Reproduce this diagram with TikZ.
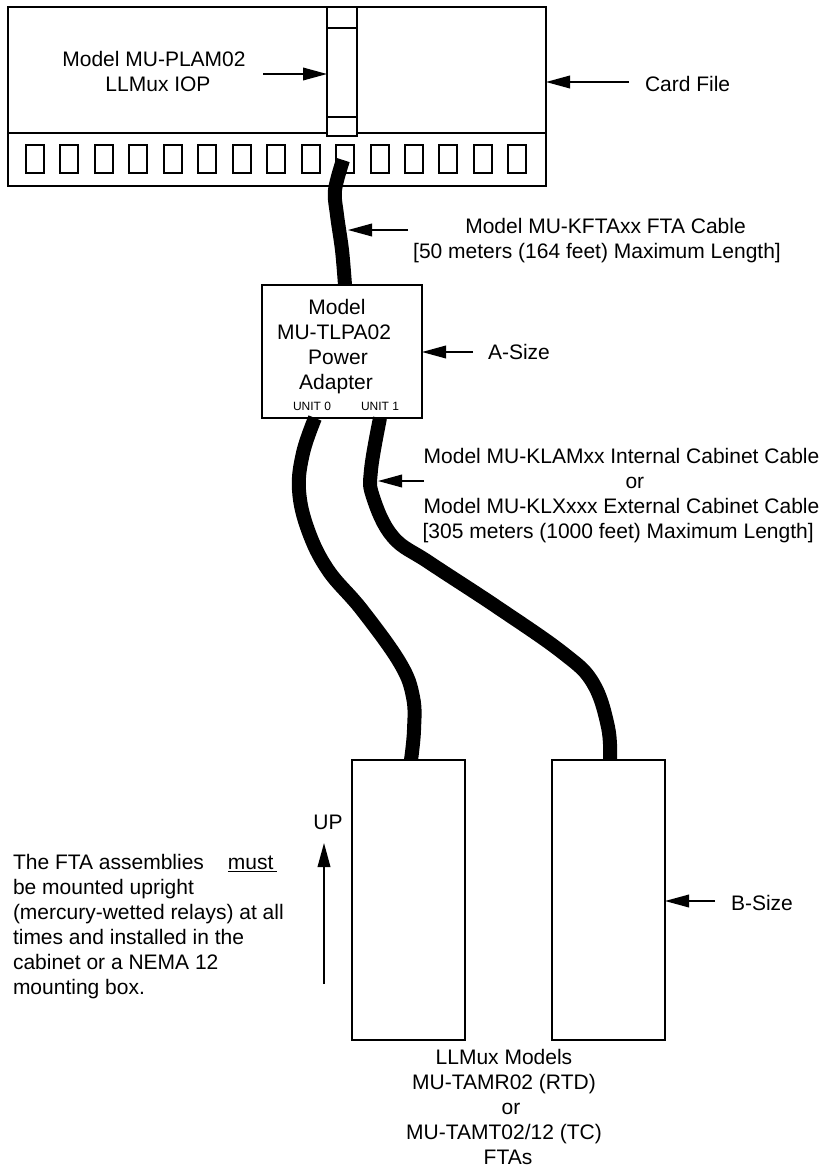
\documentclass[tikz,border=0pt]{standalone}
\usepackage{fontspec}
\setmainfont{Liberation Sans}
\usetikzlibrary{arrows.meta}
\def\px{0.75pt}
\tikzset{
  every node/.style={inner sep=0pt,outer sep=0pt},
  ln/.style={line width=1.5pt,draw=black},
  box/.style={ln,fill=white,rectangle,anchor=north west},
  lbl/.style={font=\fontsize{15.75pt}{18.75pt}\selectfont,align=center,anchor=base},
  lblleft/.style={lbl,align=left,anchor=base west},
  small/.style={font=\fontsize{9pt}{11pt}\selectfont,anchor=base},
  callout/.style={line width=1.1pt,-{Triangle[length=18pt,width=9.5pt]}},
  cable/.style={line width=10.5pt,line join=round,line cap=butt}
}
\begin{document}
\begin{tikzpicture}[x=0.75pt,y=-0.75pt]
\useasboundingbox (0,0) rectangle (822,1168);
% card file
\node[box,minimum width=538*\px,minimum height=179*\px] (card) at (8,7) {};
\draw[ln] (card.west|-0,133) -- (card.east|-0,133);
\foreach \i in {0,...,14} {
  \node[box,minimum width=18*\px,minimum height=28*\px] (slot\i) at ({26+\i*34.45},145) {};
}
\node[box,minimum width=30*\px,minimum height=129*\px] (iop) at (327,7) {};
\draw[ln] (iop.west|-0,28) -- (iop.east|-0,28);
\draw[ln] (iop.west|-0,117) -- (iop.east|-0,117);
% other boxes
\node[box,minimum width=160*\px,minimum height=133*\px] (adapter) at (262,285) {};
\node[box,minimum width=113*\px,minimum height=280*\px] (ftaA) at (352,760) {};
\node[box,minimum width=113*\px,minimum height=280*\px] (ftaB) at (552,760) {};
% cables
\coordinate (c0) at (343,160);
\coordinate (c1) at (adapter.north-|345,0);
\draw[cable] plot[smooth,tension=0.55] coordinates {(c0) (335,190) (337,215) (342,250) (c1)};
\coordinate (u0) at (315,418);
\coordinate (u0e) at (411,760);
\draw[cable] plot[smooth,tension=0.65] coordinates {(u0) (303,453) (299,490) (308,530) (328,570) (362,610) (400,663) (413,697) (414,730) (u0e)};
\coordinate (u1) at (380,418);
\coordinate (u1e) at (610,760);
\draw[cable] plot[smooth,tension=0.65] coordinates {(u1) (371,470) (373,497) (393,537) (430,563) (497,607) (563,653) (593,683) (608,727) (u1e)};
% labels
\node[lbl] (tIop) at (154,91) {Model MU-PLAM02\\\hspace*{6pt}LLMux IOP};
\node[lblleft] (tCard) at (645,91) {Card File};
\node[lbl] (tKfta) at (597,258) {\hspace*{12.75pt}Model MU-KFTAxx FTA Cable\\{}[50 meters (164 feet) Maximum Length]};
\node[lbl] (tAdapter) at (334,389) {\hspace*{4.5pt}Model\\MU-TLPA02\\\hspace*{6pt}Power\\\hspace*{3pt}Adapter};
\node[small] (tU0) at (312,410) {UNIT 0};
\node[small] (tU1) at (380,410) {UNIT 1};
\node[lblleft] (tA) at (488,359) {A-Size};
\node[lbl] (tKlam) at (621.5,538) {Model MU-KLAMxx Internal Cabinet Cable\\\hspace*{20pt}or\\Model MU-KLXxxx External Cabinet Cable\\{}[305 meters (1000 feet) Maximum Length]\hspace*{5pt}};
\node[lblleft] (tB) at (731,910) {B-Size};
\node[lbl] (tUp) at (328,829) {UP};
\node[lblleft] (tNote) at (13,994) {The FTA assemblies\hspace{18pt}\underline{must\,}\\be mounted upright\\(mercury-wetted relays) at all\\times and installed in the\\cabinet or a NEMA 12\\mounting box.};
\node[lbl] (tFta) at (504,1164) {LLMux Models\\MU-TAMR02 (RTD)\\\hspace*{10.5pt}or\\MU-TAMT02/12 (TC)\\\hspace*{6pt}FTAs};
% callouts
\coordinate (a1) at (263,74);
\draw[callout] (a1) -- (iop.west|-a1);
\coordinate (a2) at (629,82);
\draw[callout] (a2) -- (card.east|-a2);
\coordinate (a3) at (408,230);
\coordinate (a3e) at (348,230);
\draw[callout] (a3) -- (a3e);
\coordinate (a4) at (473,352);
\draw[callout] (a4) -- (adapter.east|-a4);
\coordinate (a5) at (424,481);
\coordinate (a5e) at (378,481);
\draw[callout] (a5) -- (a5e);
\coordinate (a6) at (715,901);
\draw[callout] (a6) -- (ftaB.east|-a6);
\coordinate (a7) at (324,984);
\coordinate (a7e) at (324,843);
\draw[callout] (a7) -- (a7e);
\end{tikzpicture}
\end{document}
